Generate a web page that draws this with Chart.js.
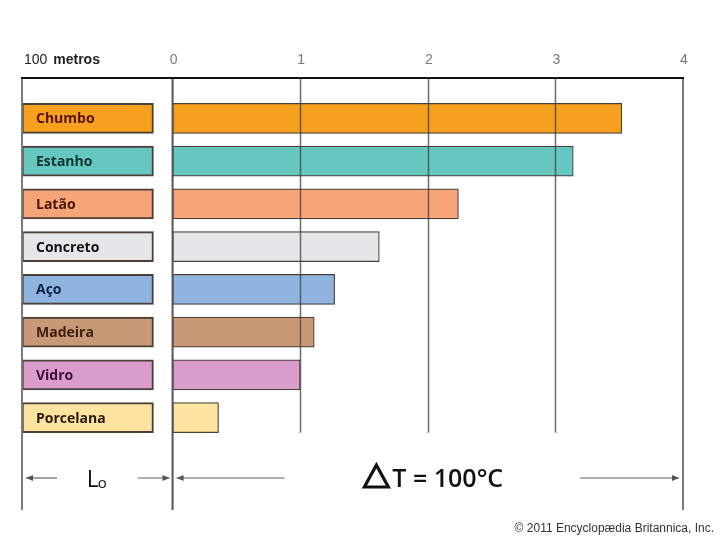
<!DOCTYPE html>
<html>
<head>
<meta charset="utf-8">
<script src="https://cdn.jsdelivr.net/npm/chart.js@4/dist/chart.umd.min.js"></script>
<style>
  html, body { margin: 0; padding: 0; background: #fff; }
  #grafico { display: block; }
</style>
</head>
<body>
<canvas id="grafico" width="720" height="540"></canvas>
<script>
// ---------- Dados ----------

const materiais = ['Chumbo', 'Estanho', 'Latão', 'Concreto', 'Aço', 'Madeira', 'Vidro', 'Porcelana'];
const dilatacao = [3.52, 3.14, 2.24, 1.62, 1.27, 1.11, 1.00, 0.36];
const ticksEixo = [0, 1, 2, 3, 4];

const coresBarra = ['#F7A01E', '#66C6C0', '#F6A478', '#E4E6E8', '#8FB4E0', '#C99877', '#D99CCB', '#FDE3A0'];
const coresTexto = ['#5A1500', '#0E3434', '#4A1500', '#111111', '#0F1F45', '#3A1E0E', '#3E0C38', '#2A1A05'];

// faixa da coluna de rótulos (em unidades do eixo x)
const xMin = -1.18;
const xMax = 4;
const caixaFim = -0.15;

// ---------- Helpers ----------

function seta(ctx, x1, x2, y) {
    const dir = x2 > x1 ? 1 : -1;
    ctx.beginPath();
    ctx.moveTo(x1, y);
    ctx.lineTo(x2, y);
    ctx.stroke();
    ctx.beginPath();
    ctx.moveTo(x2, y);
    ctx.lineTo(x2 - dir * 7, y - 3);
    ctx.lineTo(x2 - dir * 7, y + 3);
    ctx.closePath();
    ctx.fill();
}

// ---------- Plugin: linhas, rótulos e anotações ----------

const extras = {
    id: 'extras',
    afterDatasetsDraw(chart) {
        const ctx = chart.ctx;
        const x = chart.scales.x;
        const y = chart.scales.y;
        const topo = 78;
        const baseBarras = y.getPixelForValue(materiais.length - 1) + 15;
        const fundo = 510;
        const pEsq = x.getPixelForValue(xMin);
        const pZero = x.getPixelForValue(0);
        const pMax = x.getPixelForValue(xMax);

        ctx.save();

        // rótulos dentro das caixas
        ctx.font = 'bold 14px "Open Sans", "Liberation Sans", sans-serif';
        ctx.textBaseline = 'middle';
        ctx.textAlign = 'left';
        materiais.forEach((m, i) => {
            ctx.fillStyle = coresTexto[i];
            ctx.fillText(m, pEsq + 14, y.getPixelForValue(i) + 1);
        });

        // grades internas
        ctx.strokeStyle = 'rgba(70,70,70,0.8)';
        ctx.lineWidth = 1.5;
        ticksEixo.filter(t => t > 0 && t < xMax).forEach(t => {
            const px = Math.round(x.getPixelForValue(t)) + 0.5;
            ctx.beginPath();
            ctx.moveTo(px, topo);
            ctx.lineTo(px, baseBarras);
            ctx.stroke();
        });

        // linhas longas
        ctx.lineWidth = 2;
        ctx.strokeStyle = '#7a7a7a';
        [pEsq, pMax].forEach(px => {
            ctx.beginPath();
            ctx.moveTo(px, topo);
            ctx.lineTo(px, fundo);
            ctx.stroke();
        });
        ctx.strokeStyle = '#555';
        ctx.beginPath();
        ctx.moveTo(pZero, topo);
        ctx.lineTo(pZero, fundo);
        ctx.stroke();

        // linha do topo
        ctx.strokeStyle = '#111';
        ctx.lineWidth = 2;
        ctx.beginPath();
        ctx.moveTo(pEsq - 1, topo);
        ctx.lineTo(pMax + 1, topo);
        ctx.stroke();

        // ticks do eixo
        ctx.font = '14px "Liberation Sans", sans-serif';
        ctx.fillStyle = '#777';
        ctx.textAlign = 'center';
        ctx.textBaseline = 'middle';
        ticksEixo.forEach(t => {
            ctx.fillText(String(t), x.getPixelForValue(t) + 1, 60);
        });

        ctx.textAlign = 'left';
        ctx.fillStyle = '#222';
        ctx.font = '14px "Liberation Sans", sans-serif';
        ctx.fillText('100', pEsq + 2, 60);
        const w100 = ctx.measureText('100 ').width;
        ctx.font = 'bold 14px "Liberation Sans", sans-serif';
        ctx.fillText('metros', pEsq + 4 + w100, 60);

        // setas inferiores
        const ySeta = 478;
        ctx.strokeStyle = '#666';
        ctx.fillStyle = '#555';
        ctx.lineWidth = 1.2;
        seta(ctx, pEsq + 35, pEsq + 4, ySeta);
        seta(ctx, pZero - 35, pZero - 3, ySeta);
        seta(ctx, pZero + 112, pZero + 4, ySeta);
        seta(ctx, pMax - 103, pMax - 4, ySeta);

        // L0
        const meioL = (pEsq + pZero) / 2;
        ctx.fillStyle = '#111';
        ctx.textBaseline = 'alphabetic';
        ctx.font = '500 23px "Open Sans", "Liberation Sans", sans-serif';
        const wL = ctx.measureText('L').width;
        ctx.font = '500 15px "Open Sans", "Liberation Sans", sans-serif';
        const wo = ctx.measureText('o').width;
        const iniL = meioL - (wL + wo) / 2;
        ctx.font = '500 23px "Open Sans", "Liberation Sans", sans-serif';
        ctx.fillText('L', iniL, 487);
        ctx.font = '500 15px "Open Sans", "Liberation Sans", sans-serif';
        ctx.fillText('o', iniL + wL - 1, 488);

        // delta T
        const meioT = (pZero + pMax) / 2 + 5;
        ctx.font = '600 25px "Open Sans", "Liberation Sans", sans-serif';
        const txt = 'T = 100°C';
        const wT = ctx.measureText(txt).width;
        const wD = 30;
        const iniT = meioT - (wD + wT) / 2;
        ctx.strokeStyle = '#111';
        ctx.lineWidth = 3.2;
        ctx.lineJoin = 'miter';
        ctx.beginPath();
        ctx.moveTo(iniT + 2, 487);
        ctx.lineTo(iniT + 14, 465);
        ctx.lineTo(iniT + 26, 487);
        ctx.closePath();
        ctx.stroke();
        ctx.fillText(txt, iniT + wD, 487);

        // crédito
        ctx.font = '12px "Liberation Sans Narrow", "Liberation Sans", sans-serif';
        ctx.fillStyle = '#333';
        ctx.textAlign = 'right';
        ctx.fillText('© 2011 Encyclopædia Britannica, Inc.', 714, 532);

        ctx.restore();
    }
};

// ---------- Gráfico ----------

const ctx = document.getElementById('grafico').getContext('2d');

new Chart(ctx, {
    type: 'bar',
    data: {
        labels: materiais,
        datasets: [
            {
                label: 'rótulos',
                data: materiais.map(() => [xMin, caixaFim]),
                backgroundColor: coresBarra,
                borderColor: '#4a4038',
                borderWidth: 2,
                borderSkipped: false,
                barThickness: 30
            },
            {
                label: 'dilatação',
                data: dilatacao,
                backgroundColor: coresBarra,
                borderColor: '#4a4038',
                borderWidth: 1.2,
                borderSkipped: false,
                barThickness: 30
            }
        ]
    },
    options: {
        indexAxis: 'y',
        responsive: false,
        animation: false,
        grouped: false,
        layout: {
            padding: { left: 22, right: 37, top: 97, bottom: 101 }
        },
        scales: {
            x: {
                display: false,
                min: xMin,
                max: xMax
            },
            y: {
                display: false
            }
        },
        plugins: {
            legend: { display: false },
            tooltip: { enabled: false }
        }
    },
    plugins: [extras]
});
</script>
</body>
</html>
